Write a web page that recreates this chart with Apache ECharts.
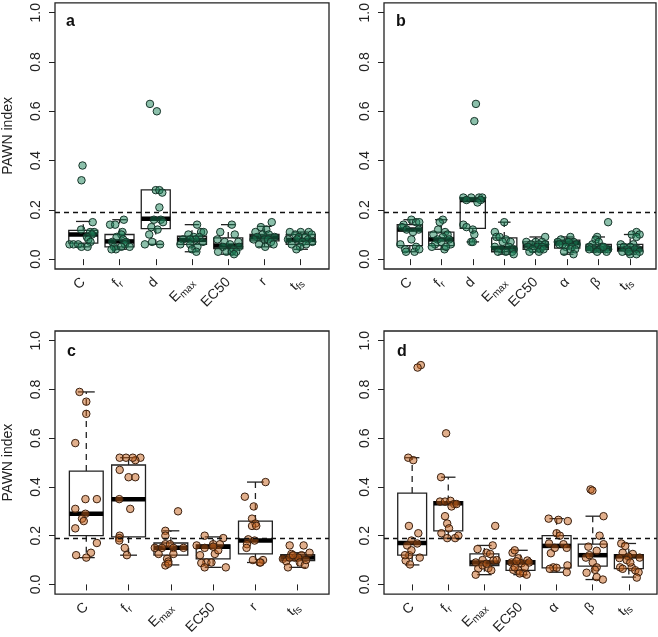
<!DOCTYPE html>
<html><head><meta charset="utf-8">
<script src="https://cdn.jsdelivr.net/npm/echarts@6/dist/echarts.min.js"></script>
<style>html,body{margin:0;padding:0;background:#fff}#c{width:658px;height:637px}</style>
</head><body><div id="c"></div>
<script>
// ---------------- DATA ----------------
const yTicks = [0, 0.2, 0.4, 0.6, 0.8, 1.0];
const threshold = 0.19;

const catsA = ['C','f_r','d','E_max','EC50','r','t_fs'];
const catsB = ['C','f_r','d','E_max','EC50','α','β','t_fs'];
const catsC = ['C','f_r','E_max','EC50','r','t_fs'];
const catsD = ['C','f_r','E_max','EC50','α','β','t_fs'];

// box statistics per category: [lower whisker, Q1, median, Q3, upper whisker]
const boxA = [[0.05,0.065,0.10,0.117,0.153],[0.04,0.05,0.072,0.10,0.16],[0.06,0.124,0.164,0.281,0.281],[0.03,0.06,0.078,0.093,0.14],[0.02,0.043,0.055,0.086,0.14],[0.05,0.074,0.088,0.10,0.133],[0.04,0.06,0.078,0.10,0.11]];
const boxB = [[0.03,0.055,0.12,0.14,0.16],[0.04,0.055,0.08,0.11,0.16],[0.07,0.125,0.24,0.25,0.25],[0.02,0.03,0.045,0.086,0.15],[0.03,0.04,0.055,0.07,0.09],[0.02,0.045,0.065,0.077,0.09],[0.03,0.035,0.045,0.06,0.09],[0.02,0.033,0.043,0.06,0.10]];
const boxC = [[0.11,0.20,0.29,0.465,0.79],[0.12,0.195,0.35,0.49,0.52],[0.08,0.12,0.15,0.17,0.22],[0.07,0.105,0.155,0.162,0.195],[0.09,0.125,0.18,0.26,0.42],[0.07,0.098,0.11,0.122,0.13]];
const boxD = [[0.08,0.12,0.17,0.375,0.52],[0.19,0.22,0.333,0.34,0.44],[0.04,0.077,0.09,0.125,0.16],[0.04,0.058,0.09,0.098,0.14],[0.05,0.068,0.158,0.20,0.27],[0.02,0.075,0.12,0.165,0.28],[0.03,0.065,0.115,0.122,0.168]];

// individual PAWN values per category
const valsA = [
 [0.38,0.32,0.15,0.12,0.11,0.11,0.10,0.09,0.08,0.07,0.06,0.06,0.06,0.05,0.05],
 [0.16,0.14,0.14,0.11,0.10,0.09,0.08,0.07,0.07,0.06,0.05,0.05,0.04,0.04,0.05],
 [0.63,0.60,0.28,0.28,0.27,0.21,0.16,0.16,0.15,0.13,0.12,0.10,0.07,0.06,0.06],
 [0.14,0.11,0.11,0.10,0.09,0.09,0.08,0.08,0.08,0.07,0.06,0.06,0.05,0.04,0.03],
 [0.14,0.11,0.10,0.08,0.07,0.07,0.06,0.05,0.05,0.04,0.03,0.03,0.03,0.03,0.02],
 [0.15,0.13,0.12,0.11,0.10,0.10,0.09,0.09,0.08,0.08,0.08,0.07,0.06,0.06,0.05],
 [0.11,0.11,0.11,0.10,0.10,0.09,0.09,0.08,0.08,0.08,0.07,0.07,0.06,0.06,0.05,0.04]
];
const valsB = [
 [0.16,0.15,0.15,0.14,0.13,0.12,0.12,0.11,0.08,0.06,0.05,0.04,0.03,0.03,0.04],
 [0.16,0.15,0.12,0.11,0.10,0.10,0.09,0.08,0.08,0.07,0.06,0.06,0.05,0.04,0.05],
 [0.63,0.56,0.25,0.25,0.25,0.25,0.24,0.24,0.23,0.14,0.13,0.12,0.10,0.07,0.07],
 [0.15,0.11,0.09,0.09,0.08,0.07,0.07,0.05,0.05,0.04,0.04,0.03,0.03,0.03,0.02],
 [0.09,0.07,0.07,0.07,0.06,0.06,0.06,0.05,0.05,0.05,0.04,0.04,0.03,0.03,0.04],
 [0.09,0.08,0.07,0.07,0.07,0.07,0.06,0.06,0.05,0.05,0.04,0.04,0.03,0.02,0.06],
 [0.15,0.09,0.08,0.07,0.06,0.05,0.05,0.04,0.04,0.04,0.04,0.03,0.03,0.04,0.05],
 [0.11,0.10,0.10,0.09,0.06,0.06,0.05,0.05,0.04,0.04,0.04,0.03,0.03,0.02,0.02,0.03]
];
const valsC = [
 [0.79,0.75,0.70,0.58,0.35,0.35,0.31,0.29,0.27,0.26,0.23,0.17,0.12,0.13,0.11],
 [0.52,0.52,0.52,0.51,0.47,0.44,0.44,0.35,0.31,0.20,0.19,0.18,0.15,0.12,0.52],
 [0.30,0.22,0.20,0.165,0.165,0.15,0.15,0.15,0.125,0.125,0.105,0.094,0.078,0.085,0.15],
 [0.20,0.19,0.165,0.16,0.165,0.15,0.12,0.125,0.14,0.09,0.09,0.088,0.07,0.07,0.155],
 [0.42,0.36,0.32,0.27,0.25,0.24,0.24,0.185,0.18,0.165,0.15,0.10,0.10,0.09,0.09],
 [0.16,0.16,0.13,0.125,0.12,0.105,0.11,0.11,0.095,0.09,0.08,0.07,0.11,0.10,0.12]
];
const valsD = [
 [0.90,0.89,0.52,0.51,0.24,0.21,0.18,0.16,0.168,0.12,0.098,0.082,0.11,0.12,0.14],
 [0.62,0.44,0.34,0.34,0.343,0.33,0.28,0.25,0.23,0.21,0.19,0.19,0.20,0.32,0.33],
 [0.24,0.16,0.145,0.13,0.125,0.09,0.10,0.098,0.10,0.065,0.067,0.058,0.078,0.085,0.04],
 [0.13,0.14,0.107,0.09,0.087,0.098,0.09,0.06,0.058,0.047,0.04,0.07,0.095,0.07,0.045],
 [0.27,0.265,0.26,0.21,0.20,0.168,0.165,0.15,0.128,0.15,0.07,0.068,0.078,0.05,0.064],
 [0.39,0.385,0.28,0.20,0.165,0.155,0.138,0.11,0.12,0.09,0.07,0.06,0.048,0.03,0.02],
 [0.168,0.158,0.13,0.125,0.114,0.11,0.108,0.07,0.064,0.07,0.058,0.05,0.028,0.10,0.09]
];

// horizontal jitter of each point (category units)
const jitA = [
 [-0.02,-0.05,0.26,-0.06,0.19,0.3,0.24,0.1,0.14,0.2,-0.38,-0.27,-0.14,-0.05,0.12],
 [0.12,-0.26,-0.12,0.08,0.05,-0.08,0.1,0.18,-0.2,0.15,-0.15,0.28,-0.1,-0.22,0.05],
 [-0.16,0.03,0.0,0.1,0.18,0.1,-0.05,0.14,0.2,-0.12,0.05,-0.18,-0.1,-0.3,0.12],
 [0.14,0.25,0.32,-0.1,0.05,0.2,-0.25,0.1,-0.05,0.3,-0.32,-0.05,0.15,0.0,0.12],
 [0.1,-0.22,0.18,-0.3,-0.1,0.28,0.05,-0.15,0.3,0.15,-0.28,-0.05,0.1,0.22,0.16],
 [0.2,-0.1,0.05,-0.25,0.12,-0.05,0.28,-0.2,0.0,0.1,-0.3,0.18,0.25,-0.15,0.02],
 [-0.3,0.0,0.22,-0.15,0.3,-0.05,0.12,-0.35,0.2,-0.1,0.05,0.32,-0.25,0.15,-0.02,-0.12]
];
const jitB = [
 [0.05,0.2,0.3,-0.2,-0.25,-0.1,0.28,0.1,0.05,-0.3,0.2,-0.15,-0.12,0.15,0.3],
 [0.05,-0.05,-0.1,0.12,0.2,-0.25,0.05,0.25,-0.12,0.0,0.3,-0.2,-0.3,0.1,0.15],
 [0.1,0.05,-0.3,-0.05,0.2,0.3,-0.2,0.25,0.15,-0.3,-0.2,0.0,0.05,-0.05,0.0],
 [0.0,-0.3,-0.25,-0.15,0.05,-0.05,0.2,0.15,-0.3,0.3,-0.1,0.25,-0.2,0.05,0.3],
 [0.3,-0.3,0.0,0.2,-0.15,0.1,0.3,-0.25,0.05,0.2,-0.1,0.15,-0.2,0.1,0.25],
 [0.1,-0.2,-0.3,0.0,0.2,0.05,-0.15,0.3,-0.05,0.15,0.1,0.25,-0.1,0.2,-0.25],
 [0.3,-0.05,-0.1,0.0,-0.2,0.1,-0.3,0.2,-0.15,0.05,0.3,0.25,-0.05,-0.3,0.15],
 [0.2,0.05,0.3,0.2,-0.3,0.1,0.0,-0.2,0.25,-0.1,0.15,-0.25,0.3,0.0,0.2,-0.05]
];
const jitC = [
 [-0.16,0,0,-0.26,-0.02,0.25,-0.26,-0.02,-0.1,-0.06,-0.26,0.25,-0.24,0.11,0.0],
 [-0.21,-0.06,0.28,0.16,-0.21,0,0.16,-0.22,0.04,-0.21,-0.22,-0.22,-0.09,-0.04,0.1],
 [0.17,-0.13,-0.13,-0.13,-0.02,-0.21,0.06,0.3,-0.29,0.06,-0.09,-0.06,-0.13,-0.06,-0.38],
 [-0.2,0.24,0.16,-0.39,0,-0.2,-0.31,0.04,0.12,-0.16,-0.04,-0.28,-0.2,0.3,0],
 [0.24,-0.25,-0.04,-0.08,0,-0.08,0.02,-0.17,-0.02,-0.2,-0.21,-0.06,0.18,0.1,0.12],
 [-0.19,0.14,0.28,-0.15,0.09,-0.35,-0.07,0.01,-0.27,0.05,0.17,-0.23,-0.19,0.2,-0.11]
];
const jitD = [
 [0.24,0.15,-0.11,0.03,-0.09,0.17,-0.02,-0.14,0.14,-0.08,-0.18,-0.06,0.21,-0.2,-0.02],
 [-0.06,-0.2,-0.23,-0.09,0.06,0.16,-0.09,-0.03,0.02,-0.19,-0.03,0.19,0.28,0.09,0.23],
 [0.3,0.23,-0.19,0.06,0.16,-0.24,-0.05,0.25,0.34,-0.17,0.11,0.19,-0.05,0.06,-0.24],
 [-0.22,-0.16,-0.06,-0.25,0.03,0.19,0.24,-0.2,-0.06,0.07,0.17,-0.16,-0.11,0.12,-0.02],
 [-0.22,0.05,0.31,0,0.09,-0.21,0.19,0.28,-0.16,-0.05,-0.09,0,0.3,0.28,-0.19],
 [-0.06,-0.01,0.3,0.19,0.3,-0.12,0.11,-0.19,-0.09,0,0.11,0.06,-0.17,0.11,0.28],
 [-0.21,-0.1,-0.17,0.11,-0.01,0.3,-0.26,-0.24,-0.17,0.08,0.18,0.27,0.22,-0.06,0.04]
];

// ---------------- STYLE / LAYOUT ----------------
const FONT = 'Liberation Sans';
const TXT = '#222';
const palettes = {
  green: {fill:'rgba(25,130,88,0.5)', border:'#17352a'},
  brown: {fill:'rgba(195,95,25,0.5)', border:'#3a1f0e'}
};
const panels = [
  {cats:catsA, box:boxA, vals:valsA, jit:jitA, pal:'green', letter:'a', yname:true, grid:{left:54, top:1, width:275, height:268}, lx:66, ly:14},
  {cats:catsB, box:boxB, vals:valsB, jit:jitB, pal:'green', letter:'b', yname:false, grid:{left:384, top:1, width:272, height:268}, lx:396, ly:14},
  {cats:catsC, box:boxC, vals:valsC, jit:jitC, pal:'brown', letter:'c', yname:true, grid:{left:54, top:331, width:275, height:268}, lx:67, ly:344},
  {cats:catsD, box:boxD, vals:valsD, jit:jitD, pal:'brown', letter:'d', yname:false, grid:{left:384, top:331, width:273, height:268}, lx:397, ly:344}
];

function labelRich(name){
  const m = {f_r:'{m|f}{s|r}', E_max:'{m|E}{s|max}', t_fs:'{m|t}{s|fs}'};
  return m[name] || '{m|' + name + '}';
}

function renderBox(params, api){
  const x = api.value(0), lo = api.value(1), q1 = api.value(2), med = api.value(3), q3 = api.value(4), hi = api.value(5);
  const hw = 0.4, cw = 0.2;
  const tl = api.coord([x - hw, q3]), br = api.coord([x + hw, q1]);
  const lineSty = {stroke:'#222', lineWidth:1.3, fill:null};
  const dash = {stroke:'#222', lineWidth:1.3, lineDash:[6,5], fill:null};
  const seg = (a, b, st) => ({type:'line', shape:{x1:a[0], y1:a[1], x2:b[0], y2:b[1]}, style:st});
  const ch = [];
  if (hi > q3) {
    ch.push(seg(api.coord([x, q3]), api.coord([x, hi]), dash));
    ch.push(seg(api.coord([x - cw, hi]), api.coord([x + cw, hi]), lineSty));
  }
  if (lo < q1) {
    ch.push(seg(api.coord([x, q1]), api.coord([x, lo]), dash));
    ch.push(seg(api.coord([x - cw, lo]), api.coord([x + cw, lo]), lineSty));
  }
  ch.push({type:'rect', shape:{x:tl[0], y:tl[1], width:br[0]-tl[0], height:br[1]-tl[1]}, style:{stroke:'#222', lineWidth:1.3, fill:null}});
  ch.push(seg(api.coord([x - hw, med]), api.coord([x + hw, med]), {stroke:'#000', lineWidth:4.5}));
  return {type:'group', children:ch};
}

const grid = [], xAxis = [], yAxis = [], series = [], graphic = [];
panels.forEach((p, i) => {
  const n = p.cats.length;
  const idx = p.cats.map((c, k) => k + 1);
  grid.push(Object.assign({show:true, borderColor:'#222', borderWidth:1.3, backgroundColor:'transparent'}, p.grid));
  xAxis.push({
    type:'value', gridIndex:i, min:0.5 - 0.04*n, max:n + 0.5 + 0.04*n,
    splitLine:{show:false}, axisLine:{show:false},
    axisTick:{show:true, customValues:idx, length:6, lineStyle:{color:'#222', width:1}},
    axisLabel:{customValues:idx, rotate:45, margin:11,
      formatter:(v) => labelRich(p.cats[Math.round(v) - 1]),
      rich:{
        m:{fontSize:14, fontFamily:FONT, color:TXT},
        s:{fontSize:10, fontFamily:FONT, color:TXT, padding:[8,0,0,0]}
      }}
  });
  yAxis.push({
    type:'value', gridIndex:i, min:-0.04, max:1.04,
    splitLine:{show:false}, axisLine:{show:false},
    axisTick:{show:true, customValues:yTicks, length:6, lineStyle:{color:'#222', width:1}},
    axisLabel:{customValues:yTicks, rotate:90, margin:12, fontSize:14, fontFamily:FONT, color:TXT,
      formatter:(v) => v.toFixed(1)},
    name: p.yname ? 'PAWN index' : '',
    nameLocation:'middle', nameRotate:90, nameGap:40,
    nameTextStyle:{fontSize:14, fontFamily:FONT, color:TXT}
  });
  series.push({
    type:'custom', xAxisIndex:i, yAxisIndex:i, silent:true, z:2,
    renderItem:renderBox,
    data:p.box.map((b, k) => [k + 1].concat(b))
  });
  series.push({
    type:'scatter', xAxisIndex:i, yAxisIndex:i, data:[], z:3, silent:true,
    markLine:{silent:true, symbol:'none', animation:false, label:{show:false},
      lineStyle:{type:[5,4], color:'#111', width:1.3}, data:[{yAxis:threshold}]}
  });
  const pts = [];
  p.vals.forEach((arr, k) => arr.forEach((v, j) => pts.push([k + 1 + p.jit[k][j], v])));
  const pal = palettes[p.pal];
  series.push({
    type:'scatter', xAxisIndex:i, yAxisIndex:i, z:4, silent:true,
    symbol:'circle', symbolSize:7.5,
    itemStyle:{color:pal.fill, borderColor:pal.border, borderWidth:1, opacity:1},
    data:pts
  });
  graphic.push({type:'text', left:p.lx, top:p.ly, silent:true,
    style:{text:p.letter, font:'bold 16px ' + FONT, fill:'#111'}});
});

const chart = echarts.init(document.getElementById('c'), null, {renderer:'canvas'});
chart.setOption({animation:false, backgroundColor:'#fff', grid, xAxis, yAxis, series, graphic});
</script></body></html>
